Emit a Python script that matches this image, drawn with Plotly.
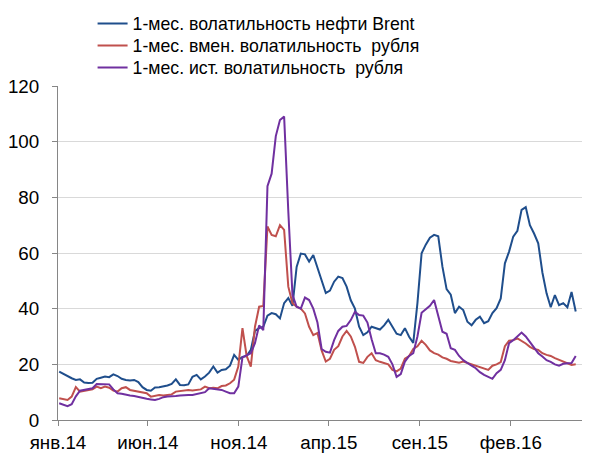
import pandas as pd
import plotly.graph_objects as go

# Weekly observation dates (Fridays), Jan 2014 - May 2016
dates = pd.date_range("2014-01-03", periods=125, freq="7D")

brent_vol = [
    17.4, 16.5, 15.6, 15.0, 14.4, 14.6, 13.5, 13.3, 13.4, 14.8,
    15.2, 15.6, 15.4, 16.4, 15.8, 14.8, 14.4, 14.2, 14.4, 13.6,
    11.8, 10.8, 10.5, 11.7, 11.8, 12.0, 12.4, 13.0, 14.6, 12.6,
    12.5, 12.8, 15.5, 16.2, 14.6, 15.6, 17.0, 19.2, 17.0, 18.0,
    18.2, 19.5, 23.4, 21.6, 22.7, 23.0, 25.2, 32.0, 33.0, 33.5,
    37.5, 38.4, 38.0, 36.5, 42.0, 43.8, 41.0, 55.0, 59.8, 59.5,
    56.9, 59.3, 55.0, 50.3, 45.6, 46.5, 49.7, 51.5, 51.0, 47.9,
    43.0, 40.0, 33.5, 30.5, 31.5, 33.5, 33.0, 32.5, 34.0, 36.0,
    33.5, 31.0, 30.5, 33.0, 29.9, 27.7, 42.0, 59.9, 63.0, 65.5,
    66.5, 66.0, 55.1, 47.0, 45.0, 38.4, 40.7, 39.5, 35.3, 34.0,
    36.0, 37.1, 34.8, 35.5, 38.4, 40.2, 43.7, 56.3, 60.5, 65.9,
    68.0, 75.5, 76.5, 70.0, 67.0, 63.5, 53.0, 45.5, 40.5, 44.9,
    41.3, 42.0, 40.5, 46.0, 39.0,
]

rub_implied = [
    7.8, 7.5, 7.2, 8.4, 11.8, 10.2, 10.5, 10.8, 11.0, 12.0,
    11.4, 12.0, 11.6, 10.6, 10.2, 11.4, 11.8, 10.8, 10.5, 10.0,
    9.8, 9.6, 8.4, 8.6, 9.0, 8.8, 9.0, 9.2, 10.2, 10.4,
    10.8, 10.8, 10.6, 10.8, 11.0, 12.0, 11.4, 11.6, 11.4, 12.2,
    12.4, 13.2, 14.5, 19.2, 33.0, 23.0, 19.2, 33.5, 40.7, 41.0,
    69.5, 66.5, 66.0, 70.0, 68.3, 47.9, 42.0, 40.7, 40.0, 38.3,
    33.5, 30.5, 31.3, 25.0, 21.0, 22.0, 25.2, 26.5, 30.0, 32.0,
    30.0, 26.3, 20.9, 20.5, 22.7, 24.0, 21.5, 20.9, 20.4, 20.0,
    18.0, 17.5, 18.5, 22.0, 23.0, 25.5, 26.5, 28.5, 27.0, 25.0,
    24.0, 23.5, 22.5, 22.0, 21.2, 20.9, 20.6, 21.0, 20.5, 20.0,
    19.5, 19.2, 18.6, 18.0, 19.5, 20.0, 20.8, 26.5, 28.5, 28.7,
    29.3, 28.5, 27.5, 26.3, 25.5, 25.2, 24.0, 23.4, 23.0, 22.2,
    21.6, 21.0, 20.2, 19.8, 20.0,
]

rub_hist = [
    6.0, 5.5, 5.0, 5.7, 8.5, 10.5, 10.8, 11.2, 11.4, 12.9,
    12.8, 12.8, 12.8, 11.0, 9.6, 9.4, 9.0, 8.8, 8.6, 8.2,
    7.8, 7.6, 7.4, 7.2, 7.6, 8.2, 8.4, 8.4, 8.6, 8.8,
    9.0, 9.0, 9.0, 9.4, 9.6, 10.0, 11.4, 11.2, 11.0, 10.8,
    10.2, 9.6, 9.6, 12.0, 22.5, 23.4, 24.0, 27.6, 34.0, 32.3,
    84.0, 88.5, 102.0, 107.8, 109.0, 75.0, 45.0, 40.7, 40.0, 44.0,
    43.1, 40.0, 35.0, 25.5, 24.5, 24.2, 28.7, 32.0, 33.5, 33.8,
    35.9, 38.9, 37.7, 37.5, 35.0, 29.0, 24.0, 24.0, 23.5, 22.7,
    20.0, 15.5, 16.5, 21.0, 23.0, 24.0, 30.0, 38.5, 39.8, 41.0,
    43.1, 37.0, 31.7, 31.0, 25.8, 25.2, 23.0, 21.5, 20.4, 19.5,
    18.6, 17.2, 16.2, 15.6, 14.8, 16.8, 18.0, 21.5, 27.6, 28.7,
    30.0, 31.4, 30.0, 28.0, 26.3, 24.0, 22.8, 21.5, 20.9, 20.0,
    19.5, 20.2, 20.4, 20.5, 23.0,
]

series_names = [
    "1-мес. волатильность нефти Brent",
    "1-мес. вмен. волатильность  рубля",
    "1-мес. ист. волатильность  рубля",
]
series_colors = ["#1F4E8C", "#C0504D", "#7030A0"]

tick_dates = ["2014-01-01", "2014-06-01", "2014-11-01", "2015-04-01", "2015-09-01", "2016-02-01"]
tick_labels = ["янв.14", "июн.14", "ноя.14", "апр.15", "сен.15", "фев.16"]
y_ticks = [0, 20, 40, 60, 80, 100, 120]

FS = 18.8
LEG_FS = 17.7
font_family = "Liberation Sans, Arial, sans-serif"
legend_ids = ["legend", "legend2", "legend3"]
legend_y = [1.1856, 1.1197, 1.0539]

fig = go.Figure()
for name, vals, col, lid in zip(series_names, [brent_vol, rub_implied, rub_hist], series_colors, legend_ids):
    fig.add_trace(go.Scatter(x=dates, y=vals, mode="lines", name=name,
                             line=dict(color=col, width=2), legend=lid))

legend_common = dict(x=0.065, xanchor="left", yanchor="middle",
                     font=dict(size=LEG_FS, family=font_family, color="#000000"),
                     bgcolor="rgba(0,0,0,0)", borderwidth=0)

# The page body adds an 8px offset, so the figure is 8px smaller on each axis
fig.update_layout(
    width=582, height=445,
    margin=dict(l=50, r=0, t=78, b=33, autoexpand=False),
    paper_bgcolor="white", plot_bgcolor="white",
    font=dict(family=font_family, size=FS, color="#000000"),
    showlegend=True,
    legend=dict(y=legend_y[0], **legend_common),
    legend2=dict(y=legend_y[1], **legend_common),
    legend3=dict(y=legend_y[2], **legend_common),
    xaxis=dict(
        type="date", range=["2014-01-01", "2016-06-13"],
        tickvals=tick_dates, ticktext=tick_labels,
        showgrid=False, showline=True, linecolor="#868686", linewidth=1,
        ticks="outside", ticklen=5, tickcolor="#868686",
        tickfont=dict(size=FS), zeroline=False, automargin=False,
    ),
    yaxis=dict(
        range=[0, 120], tickvals=y_ticks,
        showgrid=True, gridcolor="#D9D9D9", gridwidth=1,
        showline=True, linecolor="#868686", linewidth=1,
        ticks="outside", ticklen=5, tickcolor="#868686",
        tickfont=dict(size=FS), zeroline=False, automargin=False,
        ticklabelstandoff=9,
    ),
)

fig.write_html("out.html")
